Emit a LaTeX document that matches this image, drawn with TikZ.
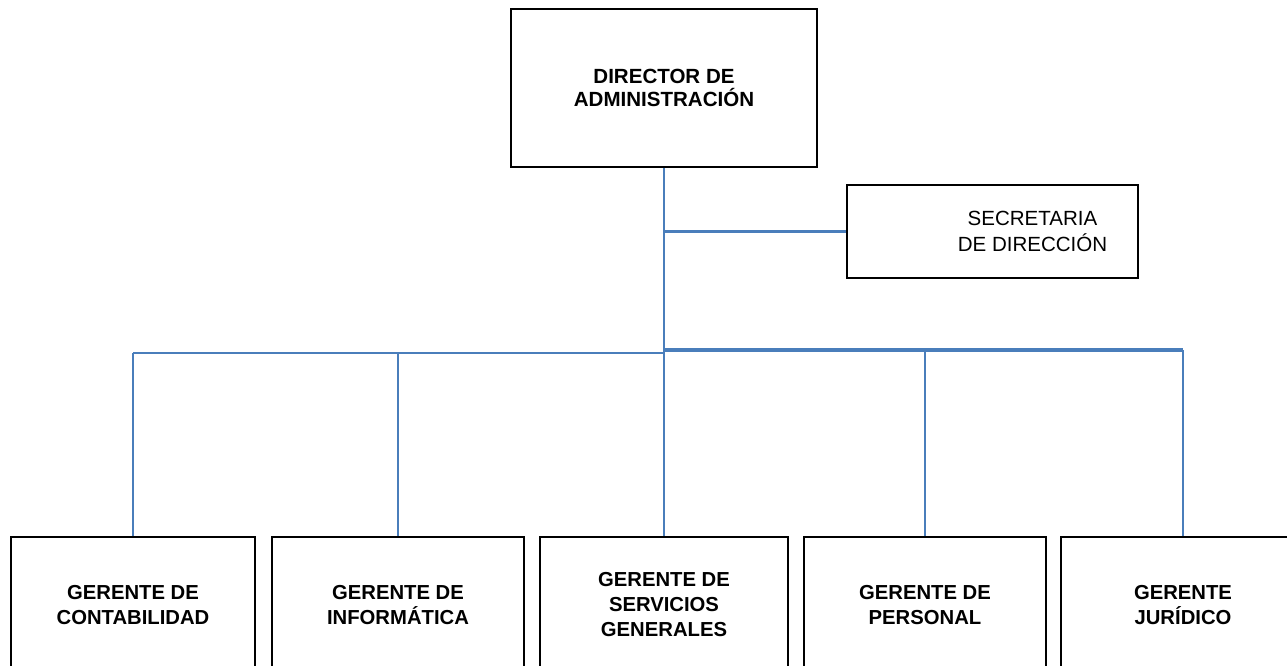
\documentclass[tikz,border=0pt]{standalone}
\usepackage{fontspec}
\setmainfont{Liberation Sans}
\definecolor{linkblue}{HTML}{4A7EBB}
\tikzset{
  box/.style={draw=black, line width=2pt, fill=white, inner sep=0pt, align=center},
  bossbox/.style={box, font=\bfseries\fontsize{15.4pt}{17.25pt}\selectfont},
  mgrbox/.style={box, font=\bfseries\fontsize{15.2pt}{18.75pt}\selectfont},
  secbox/.style={box},
  sectext/.style={font=\fontsize{15.4pt}{19.5pt}\selectfont, align=center, inner sep=0pt},
  conn/.style={draw=linkblue, line width=2pt},
  connthick/.style={draw=linkblue, line width=2.8pt}
}
\begin{document}
\begin{tikzpicture}[x=0.75pt, y=-0.75pt]
\useasboundingbox (0,0) rectangle (1287,666);
\clip (0,0) rectangle (1287,666);
\fill[white] (0,0) rectangle (1287,666);

% top
\node[bossbox, minimum width=229.5pt, minimum height=118.5pt] (dir) at (664,88)
  {DIRECTOR DE\\ADMINISTRACIÓN};

% secretary
\node[secbox, minimum width=218.25pt, minimum height=69.75pt,
  label={[sectext, xshift=30pt]center:SECRETARIA\\DE DIRECCIÓN}] (sec) at (992.5,231.5) {};

% managers
\node[mgrbox, minimum width=183pt, minimum height=102pt] (g1) at (133,605) {GERENTE DE\\CONTABILIDAD};
\node[mgrbox, minimum width=189pt, minimum height=102pt] (g2) at (398,605) {GERENTE DE\\INFORMÁTICA};
\node[mgrbox, minimum width=186pt, minimum height=102pt] (g3) at (664,605) {GERENTE DE\\SERVICIOS\\GENERALES};
\node[mgrbox, minimum width=181.5pt, minimum height=102pt] (g4) at (925,605) {GERENTE DE\\PERSONAL};
\node[mgrbox, minimum width=183pt, minimum height=102pt] (g5) at (1183,605) {GERENTE\\JURÍDICO};

% junctions
\coordinate (hub) at (664,353);
\coordinate (hubR) at (664,350);

% connectors
\draw[conn] (dir.south) -- (hub);
\draw[conn] (dir.south |- sec.west) -- (sec.west);
\draw[conn] (g1.north |- hub) -- (hub);
\draw[connthick] (hubR) -- (g5.north |- hubR);
\draw[conn] (g1.north |- hub) -- (g1.north);
\draw[conn] (g2.north |- hub) -- (g2.north);
\draw[conn] (g3.north |- hub) -- (g3.north);
\draw[conn] (g4.north |- hubR) -- (g4.north);
\draw[conn] (g5.north |- hubR) -- (g5.north);
\end{tikzpicture}
\end{document}
